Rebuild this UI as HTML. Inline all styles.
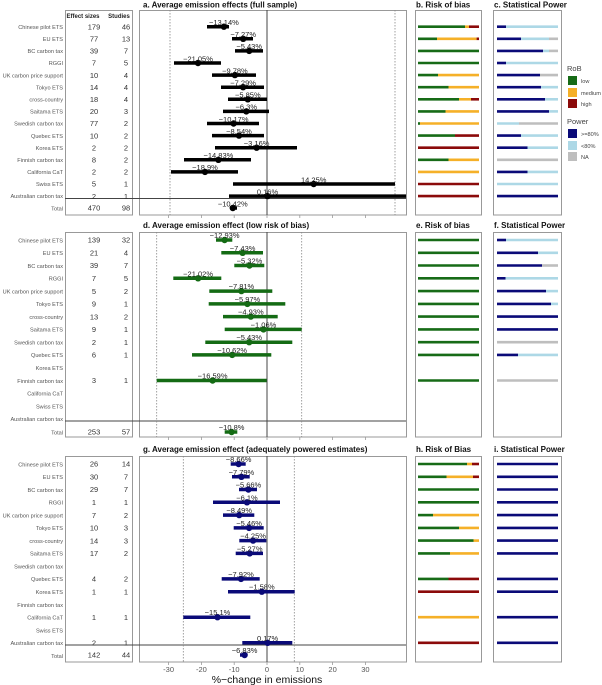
<!DOCTYPE html>
<html><head><meta charset="utf-8"><style>body{margin:0;background:#fff}svg{display:block}text{font-family:"Liberation Sans",sans-serif}</style></head>
<body>
<svg width="602" height="685" viewBox="0 0 602 685" xmlns="http://www.w3.org/2000/svg">
<g fill="none" stroke="#999" stroke-width="1">
<rect x="65.5" y="10.5" width="67" height="204.5"/>
<rect x="139.5" y="10.5" width="267" height="204.5"/>
<rect x="415.5" y="10.5" width="66" height="204.5"/>
<rect x="493.5" y="10.5" width="68" height="204.5"/>
<rect x="65.5" y="232.5" width="67" height="204.5"/>
<rect x="139.5" y="232.5" width="267" height="204.5"/>
<rect x="415.5" y="232.5" width="66" height="204.5"/>
<rect x="493.5" y="232.5" width="68" height="204.5"/>
<rect x="65.5" y="456.5" width="67" height="205.5"/>
<rect x="139.5" y="456.5" width="267" height="205.5"/>
<rect x="415.5" y="456.5" width="66" height="205.5"/>
<rect x="493.5" y="456.5" width="68" height="205.5"/>
</g>
<g stroke="#444" stroke-width="1">
<line x1="65" y1="198.5" x2="406" y2="198.5"/><line x1="65" y1="421" x2="406" y2="421"/><line x1="65" y1="645" x2="406" y2="645"/>
<line x1="267" y1="10" x2="267" y2="215"/><line x1="267" y1="232" x2="267" y2="437"/><line x1="267" y1="456" x2="267" y2="662"/>
</g>
<g stroke="#888" stroke-width="0.8" stroke-dasharray="1.5,1.5">
<line x1="170" y1="10" x2="170" y2="215"/><line x1="395" y1="10" x2="395" y2="215"/>
<line x1="156.7" y1="232" x2="156.7" y2="437"/><line x1="301.7" y1="232" x2="301.7" y2="437"/>
<line x1="183.3" y1="456" x2="183.3" y2="662"/><line x1="294.3" y1="456" x2="294.3" y2="662"/>
</g>
<g stroke="#999" stroke-width="0.8">
<line x1="168.6" y1="215" x2="168.6" y2="218"/><line x1="201.4" y1="215" x2="201.4" y2="218"/><line x1="234.2" y1="215" x2="234.2" y2="218"/><line x1="267" y1="215" x2="267" y2="218"/><line x1="299.8" y1="215" x2="299.8" y2="218"/><line x1="332.6" y1="215" x2="332.6" y2="218"/><line x1="365.4" y1="215" x2="365.4" y2="218"/>
<line x1="168.6" y1="437" x2="168.6" y2="440"/><line x1="201.4" y1="437" x2="201.4" y2="440"/><line x1="234.2" y1="437" x2="234.2" y2="440"/><line x1="267" y1="437" x2="267" y2="440"/><line x1="299.8" y1="437" x2="299.8" y2="440"/><line x1="332.6" y1="437" x2="332.6" y2="440"/><line x1="365.4" y1="437" x2="365.4" y2="440"/>
<line x1="168.6" y1="662" x2="168.6" y2="665"/><line x1="201.4" y1="662" x2="201.4" y2="665"/><line x1="234.2" y1="662" x2="234.2" y2="665"/><line x1="267" y1="662" x2="267" y2="665"/><line x1="299.8" y1="662" x2="299.8" y2="665"/><line x1="332.6" y1="662" x2="332.6" y2="665"/><line x1="365.4" y1="662" x2="365.4" y2="665"/>
</g>
<g font-size="8" font-weight="bold" fill="#111">
<text x="143" y="7.5">a. Average emission effects (full sample)</text>
<text x="416" y="7.5">b. Risk of bias</text>
<text x="494" y="7.5">c. Statistical Power</text>
<text x="143" y="228">d. Average emission effect (low risk of bias)</text>
<text x="416" y="228">e. Risk of bias</text>
<text x="494" y="228">f. Statistical Power</text>
<text x="143" y="452">g. Average emission effect (adequately powered estimates)</text>
<text x="416" y="452">h. Risk of Bias</text>
<text x="494" y="452">i. Statistical Power</text>
</g>
<g font-size="6" font-weight="bold" fill="#222" text-anchor="middle"><text x="83" y="18">Effect sizes</text><text x="119" y="18">Studies</text></g>
<g font-size="5.6" fill="#555" text-anchor="end">
<text x="63" y="29">Chinese pilot ETS</text><text x="63" y="41">EU ETS</text><text x="63" y="53">BC carbon tax</text><text x="63" y="65">RGGI</text><text x="63" y="77.5">UK carbon price support</text><text x="63" y="89.5">Tokyo ETS</text><text x="63" y="101.5">cross-country</text><text x="63" y="113.5">Saitama ETS</text><text x="63" y="125.5">Swedish carbon tax</text><text x="63" y="138">Quebec ETS</text><text x="63" y="150">Korea ETS</text><text x="63" y="162">Finnish carbon tax</text><text x="63" y="174">California CaT</text><text x="63" y="186">Swiss ETS</text><text x="63" y="198">Australian carbon tax</text><text x="63" y="210.5">Total</text>
<text x="63" y="242.3">Chinese pilot ETS</text><text x="63" y="255">EU ETS</text><text x="63" y="267.8">BC carbon tax</text><text x="63" y="280.6">RGGI</text><text x="63" y="293.4">UK carbon price support</text><text x="63" y="306.2">Tokyo ETS</text><text x="63" y="318.9">cross-country</text><text x="63" y="331.7">Saitama ETS</text><text x="63" y="344.5">Swedish carbon tax</text><text x="63" y="357.2">Quebec ETS</text><text x="63" y="370">Korea ETS</text><text x="63" y="382.8">Finnish carbon tax</text><text x="63" y="395.5">California CaT</text><text x="63" y="408.3">Swiss ETS</text><text x="63" y="421">Australian carbon tax</text><text x="63" y="434.3">Total</text>
<text x="63" y="466.3">Chinese pilot ETS</text><text x="63" y="479">EU ETS</text><text x="63" y="491.8">BC carbon tax</text><text x="63" y="504.6">RGGI</text><text x="63" y="517.4">UK carbon price support</text><text x="63" y="530.2">Tokyo ETS</text><text x="63" y="542.9">cross-country</text><text x="63" y="555.7">Saitama ETS</text><text x="63" y="568.5">Swedish carbon tax</text><text x="63" y="581.2">Quebec ETS</text><text x="63" y="594">Korea ETS</text><text x="63" y="606.8">Finnish carbon tax</text><text x="63" y="619.5">California CaT</text><text x="63" y="632.3">Swiss ETS</text><text x="63" y="645">Australian carbon tax</text><text x="63" y="658">Total</text>
</g>
<g font-size="7.5" fill="#333" text-anchor="middle">
<g transform="translate(0,2.7)">
<text x="94" y="26.7">179</text><text x="126" y="26.7">46</text>
<text x="94" y="38.8">77</text><text x="126" y="38.8">13</text>
<text x="94" y="50.9">39</text><text x="126" y="50.9">7</text>
<text x="94" y="63">7</text><text x="126" y="63">5</text>
<text x="94" y="75.1">10</text><text x="126" y="75.1">4</text>
<text x="94" y="87.2">14</text><text x="126" y="87.2">4</text>
<text x="94" y="99.3">18</text><text x="126" y="99.3">4</text>
<text x="94" y="111.4">20</text><text x="126" y="111.4">3</text>
<text x="94" y="123.5">77</text><text x="126" y="123.5">2</text>
<text x="94" y="135.6">10</text><text x="126" y="135.6">2</text>
<text x="94" y="147.7">2</text><text x="126" y="147.7">2</text>
<text x="94" y="159.8">8</text><text x="126" y="159.8">2</text>
<text x="94" y="171.9">2</text><text x="126" y="171.9">2</text>
<text x="94" y="184">5</text><text x="126" y="184">1</text>
<text x="94" y="196.1">2</text><text x="126" y="196.1">1</text>
<text x="94" y="208">470</text><text x="126" y="208">98</text>
<text x="94" y="240">139</text><text x="126" y="240">32</text>
<text x="94" y="252.8">21</text><text x="126" y="252.8">4</text>
<text x="94" y="265.5">39</text><text x="126" y="265.5">7</text>
<text x="94" y="278.3">7</text><text x="126" y="278.3">5</text>
<text x="94" y="291.1">5</text><text x="126" y="291.1">2</text>
<text x="94" y="303.9">9</text><text x="126" y="303.9">1</text>
<text x="94" y="316.6">13</text><text x="126" y="316.6">2</text>
<text x="94" y="329.4">9</text><text x="126" y="329.4">1</text>
<text x="94" y="342.2">2</text><text x="126" y="342.2">1</text>
<text x="94" y="354.9">6</text><text x="126" y="354.9">1</text>
<text x="94" y="380.5">3</text><text x="126" y="380.5">1</text>
<text x="94" y="432">253</text><text x="126" y="432">57</text>
<text x="94" y="464">26</text><text x="126" y="464">14</text>
<text x="94" y="476.8">30</text><text x="126" y="476.8">7</text>
<text x="94" y="489.5">29</text><text x="126" y="489.5">7</text>
<text x="94" y="502.3">1</text><text x="126" y="502.3">1</text>
<text x="94" y="515.1">7</text><text x="126" y="515.1">2</text>
<text x="94" y="527.9">10</text><text x="126" y="527.9">3</text>
<text x="94" y="540.6">14</text><text x="126" y="540.6">3</text>
<text x="94" y="553.4">17</text><text x="126" y="553.4">2</text>
<text x="94" y="578.9">4</text><text x="126" y="578.9">2</text>
<text x="94" y="591.7">1</text><text x="126" y="591.7">1</text>
<text x="94" y="617.2">1</text><text x="126" y="617.2">1</text>
<text x="94" y="642.8">2</text><text x="126" y="642.8">1</text>
<text x="94" y="655">142</text><text x="126" y="655">44</text>
</g></g>
<g stroke="#000" stroke-width="3.5">
<line x1="207" y1="26.7" x2="229" y2="26.7"/><line x1="232" y1="38.8" x2="253" y2="38.8"/><line x1="235" y1="50.9" x2="263" y2="50.9"/><line x1="174" y1="63" x2="221" y2="63"/><line x1="212" y1="75.1" x2="256" y2="75.1"/><line x1="221" y1="87.2" x2="264" y2="87.2"/><line x1="228" y1="99.3" x2="267" y2="99.3"/><line x1="223" y1="111.4" x2="269" y2="111.4"/><line x1="207" y1="123.5" x2="259" y2="123.5"/><line x1="212" y1="135.6" x2="264" y2="135.6"/><line x1="215" y1="147.7" x2="297" y2="147.7"/><line x1="184" y1="159.8" x2="251" y2="159.8"/><line x1="171" y1="171.9" x2="238" y2="171.9"/><line x1="233" y1="184" x2="395" y2="184"/><line x1="229" y1="196.1" x2="406" y2="196.1"/><line x1="230" y1="208" x2="237" y2="208"/>
</g>
<g fill="#000">
<circle cx="223.9" cy="26.7" r="3.2"/><circle cx="243.2" cy="38.8" r="3.2"/><circle cx="249.2" cy="50.9" r="3.2"/><circle cx="198" cy="63" r="3.2"/><circle cx="234.9" cy="75.1" r="3.2"/><circle cx="243.1" cy="87.2" r="3.2"/><circle cx="247.8" cy="99.3" r="3.2"/><circle cx="246.3" cy="111.4" r="3.2"/><circle cx="233.6" cy="123.5" r="3.2"/><circle cx="239" cy="135.6" r="3.2"/><circle cx="256.6" cy="147.7" r="3.2"/><circle cx="218.4" cy="159.8" r="3.2"/><circle cx="205" cy="171.9" r="3.2"/><circle cx="313.7" cy="184" r="3.2"/><circle cx="267.5" cy="196.1" r="3.2"/><circle cx="232.8" cy="208" r="3.2"/>
</g>
<g font-size="7.5" fill="#222" text-anchor="middle">
<text x="223.9" y="25">−13.14%</text><text x="243.2" y="37.1">−7.27%</text><text x="249.2" y="49.2">−5.43%</text><text x="198" y="61.3">−21.05%</text><text x="234.9" y="73.4">−9.78%</text><text x="243.1" y="85.5">−7.29%</text><text x="247.8" y="97.6">−5.85%</text><text x="246.3" y="109.7">−6.3%</text><text x="233.6" y="121.8">−10.17%</text><text x="239" y="133.9">−8.54%</text><text x="256.6" y="146">−3.16%</text><text x="218.4" y="158.1">−14.83%</text><text x="205" y="170.2">−18.9%</text><text x="313.7" y="182.3">14.25%</text><text x="267.5" y="194.4">0.16%</text><text x="232.8" y="206.3">−10.42%</text>
</g>
<g stroke="#146b14" stroke-width="3.5">
<line x1="216" y1="240" x2="232.3" y2="240"/><line x1="221.3" y1="252.8" x2="263" y2="252.8"/><line x1="234.3" y1="265.5" x2="264.3" y2="265.5"/><line x1="173.3" y1="278.3" x2="221.3" y2="278.3"/><line x1="209.3" y1="291.1" x2="272.3" y2="291.1"/><line x1="208.7" y1="303.9" x2="285.3" y2="303.9"/><line x1="223" y1="316.6" x2="277.7" y2="316.6"/><line x1="224.7" y1="329.4" x2="301.7" y2="329.4"/><line x1="205.3" y1="342.2" x2="292.3" y2="342.2"/><line x1="192" y1="354.9" x2="271.3" y2="354.9"/><line x1="156.7" y1="380.5" x2="266.7" y2="380.5"/><line x1="224.7" y1="432" x2="237.3" y2="432"/>
</g>
<g fill="#146b14">
<circle cx="224.6" cy="240" r="3.2"/><circle cx="242.6" cy="252.8" r="3.2"/><circle cx="249.5" cy="265.5" r="3.2"/><circle cx="198.1" cy="278.3" r="3.2"/><circle cx="241.4" cy="291.1" r="3.2"/><circle cx="247.4" cy="303.9" r="3.2"/><circle cx="250.8" cy="316.6" r="3.2"/><circle cx="263.5" cy="329.4" r="3.2"/><circle cx="249.2" cy="342.2" r="3.2"/><circle cx="232.2" cy="354.9" r="3.2"/><circle cx="212.6" cy="380.5" r="3.2"/><circle cx="231.6" cy="432" r="3.2"/>
</g>
<g font-size="7.5" fill="#222" text-anchor="middle">
<text x="224.6" y="238">−12.93%</text><text x="242.6" y="250.8">−7.43%</text><text x="249.5" y="263.5">−5.32%</text><text x="198.1" y="276.3">−21.02%</text><text x="241.4" y="289.1">−7.81%</text><text x="247.4" y="301.9">−5.97%</text><text x="250.8" y="314.6">−4.93%</text><text x="263.5" y="327.4">−1.06%</text><text x="249.2" y="340.2">−5.43%</text><text x="232.2" y="352.9">−10.62%</text><text x="212.6" y="378.5">−16.59%</text><text x="231.6" y="430">−10.8%</text>
</g>
<g stroke="#0a0a78" stroke-width="3.5">
<line x1="230.7" y1="464" x2="245.7" y2="464"/><line x1="232" y1="476.8" x2="249.7" y2="476.8"/><line x1="239" y1="489.5" x2="257" y2="489.5"/><line x1="213" y1="502.3" x2="280" y2="502.3"/><line x1="223" y1="515.1" x2="254.3" y2="515.1"/><line x1="233.7" y1="527.9" x2="263.7" y2="527.9"/><line x1="239.3" y1="540.6" x2="266.3" y2="540.6"/><line x1="235.7" y1="553.4" x2="263" y2="553.4"/><line x1="221.7" y1="578.9" x2="259.7" y2="578.9"/><line x1="228" y1="591.7" x2="294.7" y2="591.7"/><line x1="183.3" y1="617.2" x2="250.3" y2="617.2"/><line x1="242.3" y1="642.8" x2="292.3" y2="642.8"/><line x1="240" y1="655" x2="247.3" y2="655"/>
</g>
<g fill="#0a0a78">
<circle cx="238.6" cy="464" r="3.2"/><circle cx="241.4" cy="476.8" r="3.2"/><circle cx="248.4" cy="489.5" r="3.2"/><circle cx="247" cy="502.3" r="3.2"/><circle cx="239.2" cy="515.1" r="3.2"/><circle cx="249.1" cy="527.9" r="3.2"/><circle cx="253.1" cy="540.6" r="3.2"/><circle cx="249.7" cy="553.4" r="3.2"/><circle cx="241" cy="578.9" r="3.2"/><circle cx="261.8" cy="591.7" r="3.2"/><circle cx="217.5" cy="617.2" r="3.2"/><circle cx="267.6" cy="642.8" r="3.2"/><circle cx="244.6" cy="655" r="3.2"/>
</g>
<g font-size="7.5" fill="#222" text-anchor="middle">
<text x="238.6" y="462">−8.66%</text><text x="241.4" y="474.8">−7.79%</text><text x="248.4" y="487.5">−5.66%</text><text x="247" y="500.3">−6.1%</text><text x="239.2" y="513.1">−8.49%</text><text x="249.1" y="525.9">−5.46%</text><text x="253.1" y="538.6">−4.25%</text><text x="249.7" y="551.4">−5.27%</text><text x="241" y="576.9">−7.92%</text><text x="261.8" y="589.7">−1.58%</text><text x="217.5" y="615.2">−15.1%</text><text x="267.6" y="640.8">0.17%</text><text x="244.6" y="653">−6.83%</text>
</g>
<g font-size="7.5" fill="#555" text-anchor="middle">
<text x="168.6" y="672">-30</text><text x="201.4" y="672">-20</text><text x="234.2" y="672">-10</text><text x="267" y="672">0</text><text x="299.8" y="672">10</text><text x="332.6" y="672">20</text><text x="365.4" y="672">30</text>
</g>
<text x="267" y="683" font-size="10.5" fill="#111" text-anchor="middle">%−change in emissions</text>
<g stroke-width="2.6">
<g stroke="#176b17">
<line x1="418" y1="26.7" x2="465" y2="26.7"/><line x1="418" y1="38.8" x2="437" y2="38.8"/><line x1="418" y1="50.9" x2="479" y2="50.9"/><line x1="418" y1="63" x2="479" y2="63"/><line x1="418" y1="75.1" x2="438" y2="75.1"/><line x1="418" y1="87.2" x2="448.5" y2="87.2"/><line x1="418" y1="99.3" x2="459" y2="99.3"/><line x1="418" y1="111.4" x2="445.5" y2="111.4"/><line x1="418" y1="123.5" x2="420" y2="123.5"/><line x1="418" y1="135.6" x2="455" y2="135.6"/><line x1="418" y1="159.8" x2="448.5" y2="159.8"/>
</g>
<g stroke="#f5b028">
<line x1="465" y1="26.7" x2="469" y2="26.7"/><line x1="437" y1="38.8" x2="476.6" y2="38.8"/><line x1="438" y1="75.1" x2="479" y2="75.1"/><line x1="448.5" y1="87.2" x2="479" y2="87.2"/><line x1="459" y1="99.3" x2="471" y2="99.3"/><line x1="445.5" y1="111.4" x2="479" y2="111.4"/><line x1="420" y1="123.5" x2="479" y2="123.5"/><line x1="448.5" y1="159.8" x2="479" y2="159.8"/><line x1="418" y1="171.9" x2="479" y2="171.9"/>
</g>
<g stroke="#8b0a0a">
<line x1="469" y1="26.7" x2="479" y2="26.7"/><line x1="476.6" y1="38.8" x2="479" y2="38.8"/><line x1="471" y1="99.3" x2="479" y2="99.3"/><line x1="455" y1="135.6" x2="479" y2="135.6"/><line x1="418" y1="147.7" x2="479" y2="147.7"/><line x1="418" y1="184" x2="479" y2="184"/><line x1="418" y1="196.1" x2="479" y2="196.1"/>
</g>
<g stroke="#0a0a78">
<line x1="497" y1="26.7" x2="506" y2="26.7"/><line x1="497" y1="38.8" x2="521" y2="38.8"/><line x1="497" y1="50.9" x2="543" y2="50.9"/><line x1="497" y1="63" x2="506" y2="63"/><line x1="497" y1="75.1" x2="540" y2="75.1"/><line x1="497" y1="87.2" x2="541" y2="87.2"/><line x1="497" y1="99.3" x2="545" y2="99.3"/><line x1="497" y1="111.4" x2="549" y2="111.4"/><line x1="497" y1="135.6" x2="521" y2="135.6"/><line x1="497" y1="147.7" x2="527.5" y2="147.7"/><line x1="497" y1="171.9" x2="527.5" y2="171.9"/><line x1="497" y1="196.1" x2="558" y2="196.1"/>
</g>
<g stroke="#add8e6">
<line x1="506" y1="26.7" x2="558" y2="26.7"/><line x1="521" y1="38.8" x2="549" y2="38.8"/><line x1="543" y1="50.9" x2="549" y2="50.9"/><line x1="506" y1="63" x2="558" y2="63"/><line x1="541" y1="87.2" x2="558" y2="87.2"/><line x1="545" y1="99.3" x2="558" y2="99.3"/><line x1="549" y1="111.4" x2="558" y2="111.4"/><line x1="497" y1="123.5" x2="519" y2="123.5"/><line x1="521" y1="135.6" x2="558" y2="135.6"/><line x1="527.5" y1="147.7" x2="558" y2="147.7"/><line x1="527.5" y1="171.9" x2="558" y2="171.9"/><line x1="497" y1="184" x2="558" y2="184"/>
</g>
<g stroke="#bebebe">
<line x1="549" y1="38.8" x2="558" y2="38.8"/><line x1="549" y1="50.9" x2="558" y2="50.9"/><line x1="540" y1="75.1" x2="558" y2="75.1"/><line x1="519" y1="123.5" x2="558" y2="123.5"/><line x1="497" y1="159.8" x2="558" y2="159.8"/>
</g>
<g stroke="#176b17">
<line x1="418" y1="240" x2="479" y2="240"/><line x1="418" y1="252.8" x2="479" y2="252.8"/><line x1="418" y1="265.5" x2="479" y2="265.5"/><line x1="418" y1="278.3" x2="479" y2="278.3"/><line x1="418" y1="291.1" x2="479" y2="291.1"/><line x1="418" y1="303.9" x2="479" y2="303.9"/><line x1="418" y1="316.6" x2="479" y2="316.6"/><line x1="418" y1="329.4" x2="479" y2="329.4"/><line x1="418" y1="342.2" x2="479" y2="342.2"/><line x1="418" y1="354.9" x2="479" y2="354.9"/><line x1="418" y1="380.5" x2="479" y2="380.5"/>
</g>
<g stroke="#0a0a78">
<line x1="497" y1="240" x2="506" y2="240"/><line x1="497" y1="252.8" x2="538" y2="252.8"/><line x1="497" y1="265.5" x2="542" y2="265.5"/><line x1="497" y1="278.3" x2="505.5" y2="278.3"/><line x1="497" y1="291.1" x2="546" y2="291.1"/><line x1="497" y1="303.9" x2="551" y2="303.9"/><line x1="497" y1="316.6" x2="558" y2="316.6"/><line x1="497" y1="329.4" x2="558" y2="329.4"/><line x1="497" y1="354.9" x2="518" y2="354.9"/>
</g>
<g stroke="#add8e6">
<line x1="506" y1="240" x2="558" y2="240"/><line x1="538" y1="252.8" x2="558" y2="252.8"/><line x1="505.5" y1="278.3" x2="558" y2="278.3"/><line x1="546" y1="291.1" x2="558" y2="291.1"/><line x1="551" y1="303.9" x2="558" y2="303.9"/><line x1="518" y1="354.9" x2="558" y2="354.9"/>
</g>
<g stroke="#bebebe">
<line x1="542" y1="265.5" x2="558" y2="265.5"/><line x1="497" y1="342.2" x2="558" y2="342.2"/><line x1="497" y1="380.5" x2="558" y2="380.5"/>
</g>
<g stroke="#176b17">
<line x1="418" y1="464" x2="467" y2="464"/><line x1="418" y1="476.8" x2="446.5" y2="476.8"/><line x1="418" y1="489.5" x2="479" y2="489.5"/><line x1="418" y1="502.3" x2="479" y2="502.3"/><line x1="418" y1="515.1" x2="433" y2="515.1"/><line x1="418" y1="527.9" x2="459" y2="527.9"/><line x1="418" y1="540.6" x2="473.5" y2="540.6"/><line x1="418" y1="553.4" x2="450" y2="553.4"/><line x1="418" y1="578.9" x2="448.5" y2="578.9"/>
</g>
<g stroke="#f5b028">
<line x1="467" y1="464" x2="472" y2="464"/><line x1="446.5" y1="476.8" x2="473" y2="476.8"/><line x1="433" y1="515.1" x2="479" y2="515.1"/><line x1="459" y1="527.9" x2="479" y2="527.9"/><line x1="473.5" y1="540.6" x2="479" y2="540.6"/><line x1="450" y1="553.4" x2="479" y2="553.4"/><line x1="418" y1="617.2" x2="479" y2="617.2"/>
</g>
<g stroke="#8b0a0a">
<line x1="472" y1="464" x2="479" y2="464"/><line x1="473" y1="476.8" x2="479" y2="476.8"/><line x1="448.5" y1="578.9" x2="479" y2="578.9"/><line x1="418" y1="591.7" x2="479" y2="591.7"/><line x1="418" y1="642.8" x2="479" y2="642.8"/>
</g>
<g stroke="#0a0a78">
<line x1="497" y1="464" x2="558" y2="464"/><line x1="497" y1="476.8" x2="558" y2="476.8"/><line x1="497" y1="489.5" x2="558" y2="489.5"/><line x1="497" y1="502.3" x2="558" y2="502.3"/><line x1="497" y1="515.1" x2="558" y2="515.1"/><line x1="497" y1="527.9" x2="558" y2="527.9"/><line x1="497" y1="540.6" x2="558" y2="540.6"/><line x1="497" y1="553.4" x2="558" y2="553.4"/><line x1="497" y1="578.9" x2="558" y2="578.9"/><line x1="497" y1="591.7" x2="558" y2="591.7"/><line x1="497" y1="617.2" x2="558" y2="617.2"/><line x1="497" y1="642.8" x2="558" y2="642.8"/>
</g>
</g>
<g font-size="5.6" fill="#444">
<text x="567" y="71" font-size="7.5">RoB</text>
<rect x="568" y="76" width="9" height="9" fill="#176b17"/><text x="581" y="83">low</text>
<rect x="568" y="88" width="9" height="9" fill="#f5b028"/><text x="581" y="95">medium</text>
<rect x="568" y="99" width="9" height="9" fill="#8b0a0a"/><text x="581" y="106">high</text>
<text x="567" y="124" font-size="7.5">Power</text>
<rect x="568" y="129" width="9" height="9" fill="#0a0a78"/><text x="581" y="136">&gt;=80%</text>
<rect x="568" y="141" width="9" height="9" fill="#add8e6"/><text x="581" y="148">&lt;80%</text>
<rect x="568" y="152" width="9" height="9" fill="#bebebe"/><text x="581" y="159">NA</text>
</g>
</svg>
</body></html>
